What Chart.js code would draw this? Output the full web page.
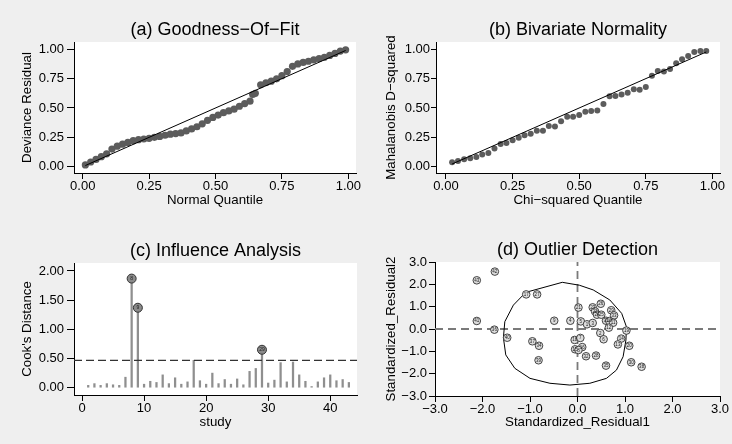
<!DOCTYPE html>
<html><head><meta charset="utf-8">
<script src="https://cdn.jsdelivr.net/npm/chart.js@4.4.1/dist/chart.umd.min.js"></script>
<style>
html,body{margin:0;padding:0;background:#efefef;}
#wrap{position:relative;width:732px;height:444px;background:#efefef;overflow:hidden;}
.panel{position:absolute;width:366px;height:222px;}
canvas{display:block;}
</style></head><body>
<div id="wrap">
<div class="panel" style="left:0;top:0"><canvas id="ca" width="366" height="222"></canvas></div>
<div class="panel" style="left:366px;top:0"><canvas id="cb" width="366" height="222"></canvas></div>
<div class="panel" style="left:0;top:222px"><canvas id="cc" width="366" height="222"></canvas></div>
<div class="panel" style="left:366px;top:222px"><canvas id="cd" width="366" height="222"></canvas></div>
</div>
<script>
// ---------- Panel (a) Goodness-Of-Fit ----------
const gofQuantile = [0.01,0.03,0.05,0.07,0.09,0.11,0.13,0.15,0.17,0.19,0.21,0.23,0.25,0.27,0.29,0.31,0.33,0.35,0.37,0.39,0.41,0.43,0.45,0.47,0.49,0.51,0.53,0.55,0.57,0.59,0.61,0.63,0.64,0.65,0.67,0.69,0.71,0.73,0.75,0.77,0.79,0.81,0.83,0.85,0.87,0.89,0.91,0.93,0.95,0.97,0.99];
const gofResidual = [0.015,0.04,0.062,0.085,0.11,0.15,0.175,0.192,0.207,0.222,0.23,0.236,0.242,0.25,0.258,0.268,0.277,0.282,0.288,0.305,0.322,0.34,0.365,0.395,0.42,0.44,0.46,0.475,0.49,0.515,0.538,0.558,0.615,0.625,0.697,0.715,0.728,0.748,0.775,0.81,0.855,0.875,0.888,0.898,0.91,0.92,0.932,0.948,0.965,0.985,0.995];
const gofRefLine = [0.01, 0.99];
const ticksUnit = [0, 0.25, 0.5, 0.75, 1];

// ---------- Panel (b) Bivariate Normality ----------
const chiQuantile = [0.023,0.045,0.068,0.091,0.114,0.136,0.159,0.182,0.205,0.227,0.25,0.273,0.295,0.318,0.341,0.364,0.386,0.409,0.432,0.455,0.477,0.5,0.523,0.545,0.568,0.591,0.614,0.636,0.659,0.682,0.705,0.727,0.75,0.773,0.795,0.818,0.841,0.864,0.886,0.909,0.932,0.955,0.977];
const mahalD2 = [0.037,0.048,0.063,0.071,0.082,0.104,0.116,0.155,0.193,0.201,0.226,0.246,0.268,0.28,0.306,0.306,0.347,0.343,0.386,0.426,0.426,0.44,0.467,0.474,0.478,0.533,0.599,0.603,0.614,0.629,0.659,0.656,0.679,0.774,0.816,0.811,0.832,0.882,0.916,0.942,0.977,0.985,0.986];
const chiRefLine = [0.023, 0.977];

// ---------- Panel (c) Influence Analysis ----------
const studies = [1,2,3,4,5,6,7,8,9,10,11,12,13,14,15,16,17,18,19,20,21,22,23,24,25,26,27,28,29,30,31,32,33,34,35,36,37,38,39,40,41,42,43];
const cooksD = [0.04,0.07,0.04,0.07,0.05,0.04,0.18,1.87,1.37,0.06,0.11,0.09,0.22,0.07,0.17,0.06,0.10,0.47,0.12,0.06,0.25,0.07,0.14,0.06,0.15,0.05,0.28,0.33,0.65,0.08,0.13,0.43,0.10,0.44,0.22,0.11,0.02,0.10,0.17,0.22,0.12,0.14,0.09];
const cooksThreshold = 0.47;
const influentialStudies = [8, 9, 29];
const ticksStudy = [0, 10, 20, 30, 40];
const ticksCook = [0, 0.5, 1, 1.5, 2];

// ---------- Panel (d) Outlier Detection ----------
const outlierLabels = [43,42,17,27,41,36,40,9,4,21,5,1,3,23,26,22,24,25,29,33,31,10,11,12,2,6,19,14,13,20,18,7,15,16,8,32,28,35,30,38,37,34,39];
const stdResid1 = [-2.12,-1.74,-1.08,-0.85,-2.12,-1.75,-1.48,-0.49,-0.15,0.02,0.07,0.20,0.32,0.32,0.49,0.37,0.41,0.50,0.71,0.77,0.60,0.67,0.75,0.66,0.48,0.55,1.03,0.92,0.85,1.09,-0.06,0.06,-0.05,0.10,0.02,0.18,0.39,0.60,1.13,1.35,-0.95,-0.81,-0.82];
const stdResid2 = [2.18,2.57,1.55,1.55,0.36,-0.03,-0.39,0.37,0.37,0.96,0.34,0.21,0.27,0.97,1.13,0.79,0.64,0.64,0.84,0.61,0.37,0.36,0.28,0.06,-0.18,-0.46,-0.07,-0.43,-0.69,-0.75,-0.49,-0.40,-0.91,-0.81,-0.94,-1.22,-1.19,-1.64,-1.49,-1.69,-0.55,-0.75,-1.40];
const ellipseX = [-0.32,0.04,0.33,0.68,0.93,1.03,1.02,0.96,0.82,0.61,0.26,-0.16,-0.58,-1.00,-1.32,-1.51,-1.56,-1.53,-1.35,-1.09,-0.32];
const ellipseY = [2.09,1.96,1.75,1.30,0.70,0.10,-0.49,-1.24,-1.84,-2.21,-2.43,-2.51,-2.43,-2.21,-1.76,-1.16,-0.39,0.33,1.07,1.64,2.09];
const ticksResid = [-3, -2, -1, 0, 1, 2, 3];
const residRange = [-3, 3];

// ---------- helpers ----------
const FONT = '"Liberation Sans", Arial, Helvetica, sans-serif';
Chart.defaults.font.family = FONT;
Chart.defaults.color = '#000';
const BG = '#efefef';

const fmt = d => v => Number(v).toFixed(d).replace('-', '\u2212');
const pts = (xs, ys) => xs.map((x, i) => ({x, y: ys[i]}));

function panelPlugin(title) {
  return {
    id: 'panelDeco',
    beforeDraw(chart) {
      const {ctx, chartArea: a} = chart;
      ctx.save();
      ctx.fillStyle = BG; ctx.fillRect(0, 0, chart.width, chart.height);
      ctx.fillStyle = '#fff'; ctx.fillRect(a.left, a.top, a.right - a.left, a.bottom - a.top);
      ctx.fillStyle = '#000';
      ctx.font = '18px ' + FONT;
      ctx.textAlign = 'center'; ctx.textBaseline = 'alphabetic';
      ctx.fillText(title, (a.left + a.right) / 2, a.top - 7.5);
      ctx.restore();
    }
  };
}
function labelPlugin(dsIndex, labels, px) {
  return {
    id: 'markerLabels',
    afterDatasetsDraw(chart) {
      const meta = chart.getDatasetMeta(dsIndex);
      const ctx = chart.ctx;
      ctx.save();
      ctx.font = px + 'px ' + FONT;
      ctx.fillStyle = '#222'; ctx.textAlign = 'center'; ctx.textBaseline = 'middle';
      meta.data.forEach((el, i) => ctx.fillText(String(labels[i]), el.x, el.y + 0.3));
      ctx.restore();
    }
  };
}
function xAxis(c) {
  return {
    type: 'linear', position: 'bottom', min: c.min, max: c.max, offset: false,
    afterBuildTicks: s => { s.ticks = c.ticks.map(v => ({value: v})); },
    afterFit: s => { s.height = c.h; },
    ticks: {callback: c.fmt, color: '#000', font: {size: 13}, padding: 0, maxRotation: 0, autoSkip: false},
    grid: {display: true, drawOnChartArea: false, drawTicks: true, tickLength: 6, color: '#000', offset: false},
    border: {display: true, color: '#000', width: 1},
    title: {display: true, text: c.title, color: '#000', font: {size: 13.3}, padding: {top: 0, bottom: 13.7}}
  };
}
function yAxis(c) {
  return {
    type: 'linear', position: 'left', min: c.min, max: c.max,
    afterBuildTicks: s => { s.ticks = c.ticks.map(v => ({value: v})); },
    afterFit: s => { s.width = c.w; },
    ticks: {callback: c.fmt, color: '#000', font: {size: 13}, padding: c.pad, autoSkip: false},
    grid: {display: true, drawOnChartArea: false, drawTicks: true, tickLength: c.tl, color: '#000'},
    border: {display: true, color: '#000', width: 1},
    title: {display: true, text: c.title, color: '#000', font: {size: 13.3}, padding: {top: c.tpad, bottom: 0}}
  };
}
const common = (padTop, padRight, x, y) => ({
  responsive: false, animation: false, devicePixelRatio: 1,
  layout: {padding: {top: padTop, right: padRight, left: 0, bottom: 0}},
  plugins: {legend: {display: false}, tooltip: {enabled: false}},
  scales: {x, y}
});

// ---------- (a) ----------
new Chart(document.getElementById('ca'), {
  type: 'scatter',
  data: {datasets: [
    {data: pts(gofRefLine, gofRefLine), showLine: true, borderColor: '#000', borderWidth: 1, pointRadius: 0},
    {data: pts(gofQuantile, gofResidual), pointRadius: 3.6, backgroundColor: '#5c5c5c', borderWidth: 0}
  ]},
  options: common(42, 10,
    xAxis({min: -0.0328, max: 1.029, ticks: ticksUnit, fmt: fmt(2), h: 49, title: 'Normal Quantile'}),
    yAxis({min: -0.0537, max: 1.062, ticks: ticksUnit, fmt: fmt(2), w: 74, tl: 7, pad: 3, tpad: 19.7, title: 'Deviance Residual'})),
  plugins: [panelPlugin('(a) Goodness\u2212Of\u2212Fit')]
});

// ---------- (b) ----------
new Chart(document.getElementById('cb'), {
  type: 'scatter',
  data: {datasets: [
    {data: pts(chiRefLine, chiRefLine), showLine: true, borderColor: '#000', borderWidth: 1, pointRadius: 0},
    {data: pts(chiQuantile, mahalD2), pointRadius: 3, backgroundColor: '#5c5c5c', borderWidth: 0}
  ]},
  options: common(42, 12,
    xAxis({min: -0.0375, max: 1.0285, ticks: ticksUnit, fmt: fmt(2), h: 49, title: 'Chi\u2212squared Quantile'}),
    yAxis({min: -0.0537, max: 1.062, ticks: ticksUnit, fmt: fmt(2), w: 70, tl: 5, pad: 1, tpad: 17.6, title: 'Mahalanobis D\u2212squared'})),
  plugins: [panelPlugin('(b) Bivariate Normality')]
});

// ---------- (c) ----------
const cXmin = -1.29, cXmax = 44.31;
new Chart(document.getElementById('cc'), {
  type: 'bar',
  data: {datasets: [
    {type: 'scatter', data: influentialStudies.map(s => ({x: s, y: cooksD[s - 1]})), pointRadius: 4.5,
     backgroundColor: '#8a8a8a', borderColor: '#333', borderWidth: 1},
    {type: 'scatter', data: [{x: cXmin, y: cooksThreshold}, {x: cXmax, y: cooksThreshold}], showLine: true,
     borderColor: '#333', borderWidth: 1.2, borderDash: [8, 4], pointRadius: 0},
    {type: 'bar', data: pts(studies, cooksD), backgroundColor: '#8f8f8f', borderWidth: 0, barThickness: 1.6}
  ]},
  options: common(41, 9,
    xAxis({min: cXmin, max: cXmax, ticks: ticksStudy, fmt: fmt(0), h: 49, title: 'study'}),
    yAxis({min: -0.125, max: 2.137, ticks: ticksCook, fmt: fmt(2), w: 74, tl: 7, pad: 3, tpad: 19.7, title: "Cook's Distance"})),
  plugins: [panelPlugin('(c) Influence Analysis'), labelPlugin(0, influentialStudies, 5)]
});

// ---------- (d) ----------
new Chart(document.getElementById('cd'), {
  type: 'scatter',
  data: {datasets: [
    {data: pts(stdResid1, stdResid2), pointRadius: 3.8, backgroundColor: '#dcdcdc', borderColor: '#333', borderWidth: 0.9},
    {data: pts(ellipseX, ellipseY), showLine: true, borderColor: '#000', borderWidth: 1, pointRadius: 0, tension: 0},
    {data: [{x: 0, y: residRange[0]}, {x: 0, y: residRange[1]}], showLine: true, borderColor: '#7a7a7a', borderWidth: 1.8, borderDash: [8, 5], pointRadius: 0},
    {data: [{x: residRange[0], y: 0}, {x: residRange[1], y: 0}], showLine: true, borderColor: '#7a7a7a', borderWidth: 1.8, borderDash: [8, 5], pointRadius: 0}
  ]},
  options: common(40, 12,
    xAxis({min: residRange[0], max: residRange[1], ticks: ticksResid, fmt: fmt(1), h: 48, title: 'Standardized_Residual1'}),
    yAxis({min: residRange[0], max: residRange[1], ticks: ticksResid, fmt: fmt(1), w: 69, tl: 6, pad: 2, tpad: 17.6, title: 'Standardized_Residual2'})),
  plugins: [panelPlugin('(d) Outlier Detection'), labelPlugin(0, outlierLabels, 4.5)]
});
</script>
</body></html>
